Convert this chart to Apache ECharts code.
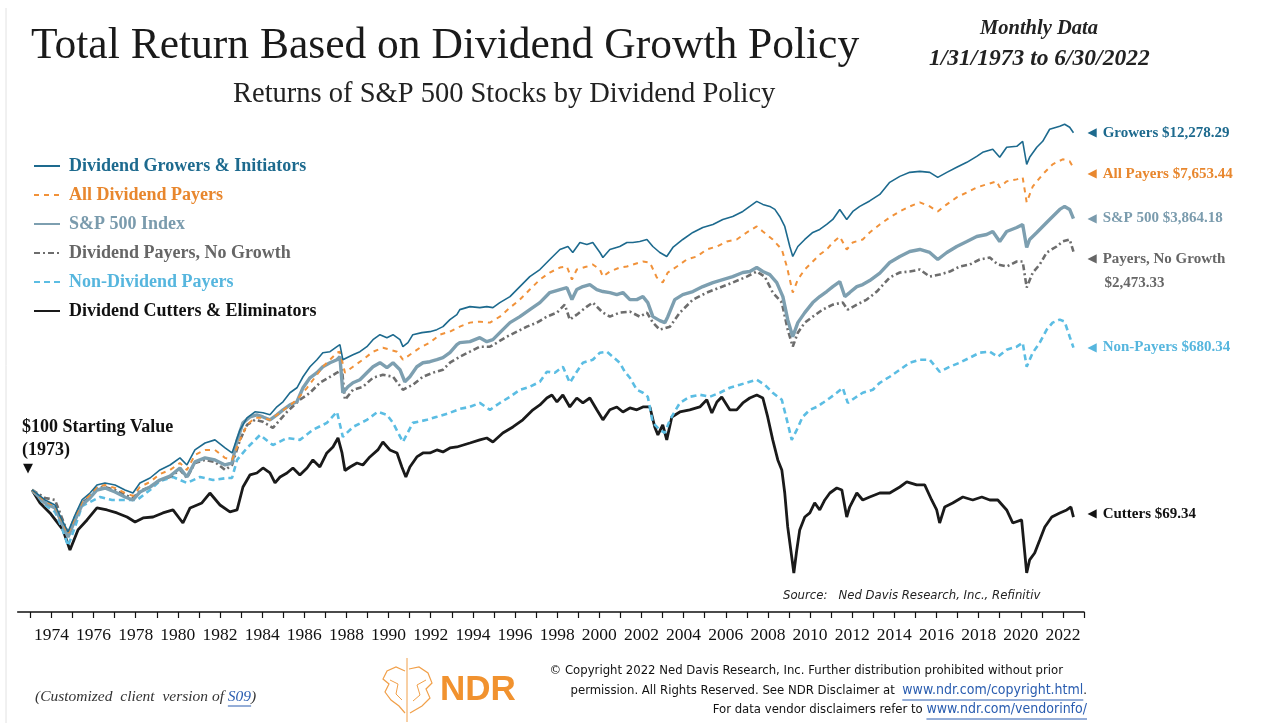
<!DOCTYPE html>
<html>
<head>
<meta charset="utf-8">
<script src="https://cdn.jsdelivr.net/npm/echarts@6/dist/echarts.min.js"></script>
<style>
html,body{margin:0;padding:0;background:#fff;}
#chart{width:1273px;height:723px;}
</style>
</head>
<body>
<div id="chart"></div>
<script>
// ---------------- DATA (decimal years, dollar values) ----------------
const tickYears = [];
for (let y = 1973; y <= 2023; y++) tickYears.push(y);
const labelYears = [];
for (let y = 1974; y <= 2022; y += 2) labelYears.push(y);

const seriesNames = ['Dividend Growers & Initiators','All Dividend Payers','S&P 500 Index','Dividend Payers, No Growth','Non-Dividend Payers','Dividend Cutters & Eliminators'];
const endLabels = ['Growers $12,278.29','All Payers $7,653.44','S&P 500 $3,864.18','Payers, No Growth\n$2,473.33','Non-Payers $680.34','Cutters $69.34'];

const growersDates = [1973.08,1973.70,1974.17,1974.50,1974.79,1975.12,1975.45,1975.83,1976.16,1976.54,1977.02,1977.49,1977.87,1978.20,1978.68,1979.15,1979.63,1980.10,1980.43,1980.81,1981.29,1981.76,1982.24,1982.57,1982.95,1983.28,1983.66,1984.04,1984.37,1984.70,1984.99,1985.32,1985.65,1985.94,1986.27,1986.60,1986.88,1987.22,1987.55,1987.69,1987.83,1988.02,1988.31,1988.64,1988.97,1989.26,1989.59,1989.92,1990.21,1990.54,1990.68,1990.92,1991.15,1991.58,1991.96,1992.29,1992.58,1992.91,1993.24,1993.38,1993.86,1994.33,1994.66,1994.95,1995.28,1995.76,1996.23,1996.70,1997.18,1997.65,1998.13,1998.51,1998.74,1999.08,1999.41,1999.69,2000.03,2000.17,2000.50,2000.97,2001.31,2001.59,2001.92,2002.26,2002.54,2002.87,2003.20,2003.49,2003.96,2004.44,2004.91,2005.39,2005.86,2006.33,2006.81,2007.14,2007.47,2007.76,2008.09,2008.33,2008.56,2008.80,2009.04,2009.18,2009.42,2009.75,2010.13,2010.46,2010.79,2011.08,2011.41,2011.74,2012.03,2012.36,2012.83,2013.31,2013.78,2014.26,2014.73,2015.21,2015.68,2016.06,2016.49,2016.96,2017.44,2017.91,2018.19,2018.67,2019.00,2019.33,2019.81,2020.09,2020.28,2020.42,2020.76,2021.04,2021.37,2021.85,2022.08,2022.32,2022.50];
const growersValues = [100,87.4,81.7,66.8,56.9,71.4,87.4,96.0,107.0,109.9,107.0,100,96.0,109.9,117.5,131.0,140.0,154.0,140.0,171.5,188.3,196.3,176.1,164.6,224.7,264.1,286.5,282.7,275.1,306.4,327.9,370.2,396.0,459.3,525.7,577.8,635.1,643.7,688.6,707.4,577.8,593.6,618.1,643.7,688.6,756.8,809.5,777.5,809.5,756.8,688.6,726.9,809.5,831.8,843.1,866.1,901.8,991.2,1060,1134,1181,1165,1181,1165,1247,1352,1547,1770,1946,2227,2549,2654,2448,2802,2727,2802,2448,2288,2549,2654,2802,2802,2840,2917,2654,2448,2319,2619,2917,3206,3429,3571,3820,3977,4256,4552,4871,4678,4552,4372,3977,3476,2654,2319,2654,2917,3206,3338,3571,3820,4372,3820,4256,4552,4900,5353,6294,6823,7203,7301,7203,6732,7203,7705,8243,8937,9434,9823,8817,10091,10228,10943,8023,8817,10091,10943,12866,13396,13763,13217,12278.29];

const allPayersDates = [1973.08,1973.70,1974.17,1974.50,1974.79,1975.12,1975.45,1975.83,1976.16,1976.54,1977.02,1977.49,1977.87,1978.20,1978.68,1979.15,1979.63,1980.10,1980.43,1980.81,1981.29,1981.76,1982.24,1982.57,1982.95,1983.28,1983.66,1984.04,1984.37,1984.85,1985.65,1986.13,1986.60,1986.88,1987.22,1987.55,1987.69,1987.93,1988.31,1988.78,1989.26,1989.73,1990.06,1990.40,1990.68,1991.01,1991.49,1991.96,1992.43,1992.91,1993.38,1993.86,1994.33,1994.81,1995.28,1995.76,1996.23,1996.70,1997.18,1997.65,1998.13,1998.46,1998.70,1998.93,1999.41,1999.69,2000.03,2000.17,2000.50,2000.97,2001.31,2001.59,2002.07,2002.40,2002.73,2003.01,2003.25,2003.68,2004.15,2004.63,2005.10,2005.58,2006.05,2006.52,2007.00,2007.47,2007.76,2008.23,2008.66,2008.90,2009.18,2009.42,2009.75,2010.13,2010.46,2010.79,2011.08,2011.41,2011.74,2012.03,2012.50,2012.83,2013.31,2013.78,2014.26,2014.73,2015.21,2015.68,2016.06,2016.49,2016.96,2017.44,2017.91,2018.38,2018.86,2019.00,2019.33,2019.81,2020.09,2020.28,2020.57,2021.04,2021.51,2021.99,2022.32,2022.50];
const allPayersValues = [100,86.2,80.6,65.9,55.3,69.5,85.1,93.5,104.1,107.0,102.7,96.0,92.3,104.1,111.4,124.0,131.0,143.8,131.0,160.2,171.5,171.5,154.0,150.0,196.3,240.0,264.1,264.1,257.1,282.7,336.8,396.0,471.8,525.7,577.8,635.1,643.7,484.9,525.7,577.8,643.7,679.4,661.3,643.7,577.8,618.1,679.4,726.9,809.5,843.1,901.8,952.0,964.9,952.0,1032,1165,1298,1486,1700,1869,1999,2026,1700,1946,2026,2082,1946,1770,1894,1999,2026,2082,2168,2139,1746,1633,1869,2026,2227,2319,2549,2654,2840,2917,3206,3476,3249,2917,2549,2026,1427,1700,1946,2168,2382,2549,2802,3037,2549,2802,2917,3206,3571,3924,4256,4552,4806,4552,4256,4678,5141,5499,5882,6125,6379,5882,6379,6553,6732,4806,5962,7011,8023,8583,8355,7653.44];

const sp500Dates = [1973.08,1973.70,1974.17,1974.50,1974.79,1975.12,1975.45,1975.83,1976.16,1976.54,1977.02,1977.49,1977.87,1978.20,1978.68,1979.15,1979.63,1980.10,1980.43,1980.81,1981.29,1981.76,1982.24,1982.57,1982.81,1983.09,1983.42,1983.75,1984.04,1984.37,1984.70,1984.99,1985.32,1985.65,1985.94,1986.27,1986.60,1986.88,1987.22,1987.55,1987.69,1987.83,1988.07,1988.31,1988.64,1988.97,1989.26,1989.59,1989.92,1990.21,1990.54,1990.77,1991.01,1991.34,1991.63,1991.96,1992.29,1992.58,1992.91,1993.24,1993.38,1993.86,1994.33,1994.66,1994.95,1995.28,1995.76,1996.23,1996.70,1997.18,1997.65,1998.13,1998.46,1998.70,1998.93,1999.22,1999.55,1999.88,2000.17,2000.50,2000.83,2001.12,2001.45,2001.78,2002.07,2002.30,2002.54,2002.87,2003.11,2003.25,2003.58,2003.96,2004.44,2004.91,2005.39,2005.86,2006.33,2006.81,2007.14,2007.47,2007.76,2008.09,2008.42,2008.71,2008.94,2009.18,2009.42,2009.75,2010.13,2010.46,2010.79,2011.08,2011.41,2011.65,2011.88,2012.22,2012.50,2012.83,2013.31,2013.78,2014.26,2014.73,2015.21,2015.68,2016.06,2016.49,2016.96,2017.44,2017.91,2018.38,2018.67,2019.00,2019.33,2019.81,2020.09,2020.28,2020.42,2020.76,2021.04,2021.37,2021.85,2022.08,2022.32,2022.50];
const sp500Values = [100,84.0,78.5,64.1,53.1,66.8,81.7,89.8,100,102.7,97.3,91.0,87.4,97.3,104.1,114.4,120.7,134.5,119.1,145.9,154.0,149.9,140.0,143.8,195.0,246.9,267.3,275.1,267.3,257.1,275.1,294.3,314.8,327.9,396.0,453.1,484.9,525.7,554.9,577.8,601.6,370.2,401.4,423.6,441.1,484.9,525.7,554.9,518.7,554.9,504.9,429.4,459.3,525.7,554.9,562.4,577.8,593.6,635.1,707.4,726.9,736.7,777.5,736.7,756.8,831.8,952.0,1032,1134,1247,1427,1486,1527,1298,1486,1547,1590,1486,1447,1427,1389,1427,1298,1298,1352,1247,1032,978,952,1032,1298,1389,1447,1547,1633,1700,1770,1869,1894,1999,1894,1818,1633,1352,991,788,952,1089,1247,1352,1447,1547,1655,1352,1427,1547,1590,1677,1855,2139,2319,2481,2549,2448,2227,2448,2654,2840,3037,3120,3249,2840,3249,3429,3571,2619,2917,3206,3476,3820,4372,4552,4372,3864.18];

const noGrowthDates = [1973.08,1973.70,1974.17,1974.50,1974.79,1975.12,1975.45,1975.83,1976.16,1976.54,1977.02,1977.49,1977.87,1978.20,1978.68,1979.15,1979.63,1980.10,1980.43,1980.81,1981.29,1981.76,1982.24,1982.57,1982.95,1983.28,1983.66,1984.04,1984.51,1985.18,1985.79,1986.27,1986.74,1987.22,1987.55,1987.79,1987.93,1988.31,1988.78,1989.26,1989.73,1990.21,1990.68,1991.15,1991.63,1992.10,1992.58,1992.91,1993.38,1993.86,1994.33,1994.81,1995.14,1995.61,1996.09,1996.56,1997.04,1997.51,1997.99,1998.36,1998.60,1998.93,1999.41,1999.69,2000.17,2000.50,2000.97,2001.45,2001.92,2002.26,2002.54,2002.87,2003.35,2003.82,2004.44,2005.10,2005.72,2006.33,2007.00,2007.47,2007.85,2008.23,2008.66,2008.94,2009.18,2009.42,2009.75,2010.13,2010.60,2011.08,2011.55,2011.79,2012.22,2012.69,2013.17,2013.78,2014.26,2014.73,2015.21,2015.68,2016.15,2016.63,2017.10,2017.58,2018.05,2018.53,2018.91,2019.33,2019.81,2020.09,2020.28,2020.57,2020.90,2021.23,2021.70,2021.99,2022.32,2022.50];
const noGrowthValues = [100,89.8,87.4,68.6,55.3,69.5,84.0,91.0,102.7,104.1,100,93.5,89.8,98.6,104.1,114.4,119.1,131.0,117.5,143.8,149.9,145.9,131.0,140.0,196.3,240.0,257.1,250.3,230.8,286.5,336.8,370.2,423.6,459.3,484.9,504.9,336.8,385.5,401.4,453.1,471.8,459.3,385.5,412.4,459.3,484.9,504.9,554.9,601.6,643.7,688.6,688.6,726.9,788,843.1,901.8,952,1032,1089,1213,991.2,1060,1181,1247,1089,1032,1089,1104,1032,1089,952,866.1,901.8,1089,1298,1427,1527,1633,1770,1894,1770,1427,1247,866.1,688.6,831.8,952,1032,1134,1213,1247,1134,1213,1298,1447,1747,1869,1894,1946,1770,1818,1894,2026,2082,2227,2288,2082,2026,2168,2168,1527,1869,2082,2448,2654,2840,2917,2473.33];

const nonPayersDates = [1973.08,1973.70,1974.17,1974.50,1974.79,1975.12,1975.45,1975.83,1976.31,1976.88,1977.40,1978.06,1978.68,1979.15,1979.77,1980.43,1981.05,1981.67,1982.33,1982.57,1982.81,1983.28,1983.90,1984.51,1985.18,1985.79,1986.41,1987.07,1987.55,1987.83,1988.31,1988.97,1989.49,1989.92,1990.21,1990.68,1991.15,1991.82,1992.29,1992.91,1993.38,1993.86,1994.33,1994.81,1995.28,1995.76,1996.23,1996.70,1997.18,1997.51,1997.89,1998.27,1998.60,1998.93,1999.22,1999.69,2000.03,2000.36,2000.64,2000.97,2001.21,2001.45,2001.78,2002.07,2002.30,2002.54,2002.87,2003.11,2003.35,2003.82,2004.29,2004.77,2005.24,2005.72,2006.19,2006.67,2007.14,2007.47,2007.85,2008.23,2008.66,2008.90,2009.13,2009.37,2009.65,2009.99,2010.32,2010.60,2010.94,2011.27,2011.55,2011.79,2012.12,2012.50,2012.98,2013.31,2013.78,2014.26,2014.73,2015.21,2015.68,2016.15,2016.63,2017.10,2017.58,2018.05,2018.53,2018.91,2019.33,2019.81,2020.09,2020.28,2020.57,2020.90,2021.23,2021.51,2021.85,2022.08,2022.32,2022.50];
const nonPayersValues = [100,81.7,74.4,60.0,47.1,60.8,80.6,85.1,91.0,87.4,87.4,87.4,100,112.9,119.1,109.9,119.1,114.4,117.5,117.5,149.9,176.0,209.7,183.0,201.4,196.3,224.7,246.9,286.5,204.4,233.6,257.1,286.5,275.1,246.9,190.8,246.9,257.1,267.7,282.7,297.9,306.4,322.8,294.3,322.8,350.7,385.5,401.4,429.4,491.5,484.9,525.7,423.6,491.5,554.9,577.8,635.1,643.7,601.6,554.9,491.5,453.1,385.5,370.2,350.7,246.9,224.7,215.8,257.1,322.8,350.7,360.4,350.7,370.2,396.0,412.4,429.4,441.1,412.4,370.2,336.8,257.1,196.3,224.7,267.7,294.3,306.4,322.8,345.1,370.2,396.0,322.8,345.1,370.2,385.5,423.6,459.3,504.9,554.9,577.8,577.8,491.5,525.7,554.9,593.6,635.1,643.7,601.6,661.3,688.6,726.9,525.7,635.1,726.9,866.1,952.0,991.2,964.9,788,680.34];

const cuttersDates = [1973.08,1973.46,1973.93,1974.55,1974.88,1975.26,1975.69,1976.16,1976.64,1977.11,1977.59,1977.97,1978.35,1978.82,1979.29,1979.77,1980.24,1980.58,1981.14,1981.52,1982.00,1982.47,1982.81,1983.09,1983.42,1983.75,1984.04,1984.37,1984.61,1984.85,1985.18,1985.46,1985.79,1986.13,1986.41,1986.74,1987.07,1987.36,1987.60,1987.79,1987.93,1988.17,1988.50,1988.78,1989.11,1989.49,1989.73,1990.06,1990.40,1990.63,1990.82,1991.01,1991.34,1991.63,1991.96,1992.29,1992.58,1992.91,1993.24,1993.86,1994.33,1994.66,1994.95,1995.42,1995.90,1996.37,1996.85,1997.18,1997.51,1997.75,1997.99,1998.27,1998.60,1998.93,1999.22,1999.55,1999.88,2000.17,2000.50,2000.83,2001.12,2001.45,2001.78,2002.07,2002.40,2002.63,2002.78,2003.01,2003.20,2003.44,2003.82,2004.29,2004.77,2005.10,2005.34,2005.58,2005.81,2006.19,2006.52,2006.81,2007.14,2007.47,2007.76,2007.99,2008.23,2008.47,2008.66,2008.80,2008.94,2009.13,2009.23,2009.37,2009.51,2009.75,2009.99,2010.22,2010.46,2010.70,2010.94,2011.27,2011.51,2011.74,2011.88,2012.22,2012.50,2012.83,2013.31,2013.78,2014.26,2014.59,2015.06,2015.44,2015.77,2016.01,2016.15,2016.39,2016.77,2017.25,2017.72,2018.15,2018.53,2018.91,2019.33,2019.62,2020.04,2020.28,2020.42,2020.66,2020.90,2021.14,2021.47,2021.85,2022.18,2022.38,2022.50];
const cuttersValues = [100,84.0,73.4,58.4,44.6,58.4,66.8,78.5,76.4,73.4,69.5,65.0,68.6,69.5,73.4,76.4,64.1,78.5,84.0,96.0,81.7,74.4,76.4,104.1,122.4,125.7,134.5,125.7,109.9,119.1,125.7,134.5,122.4,134.5,149.9,136.3,164.6,178.4,201.4,164.6,130.0,136.3,143.8,140.0,156.0,171.5,190.8,171.5,164.6,136.3,119.1,136.3,156.0,164.6,164.6,171.5,166.9,176.1,178.4,188.3,196.3,201.4,190.8,215.4,233.6,257.1,294.3,314.2,345.1,359.4,327.1,359.4,305.8,345.1,322.8,345.1,294.3,257.1,294.3,305.8,285.8,301.7,294.3,305.8,305.8,233.6,209.7,240.0,196.3,267.3,285.8,294.3,305.8,336.8,282.0,327.1,349.9,294.3,294.3,322.8,345.1,359.4,345.1,267.3,196.3,149.9,131.0,96.0,60.8,40.6,32.7,44.6,58.4,69.5,73.4,84.0,76.4,87.4,96.0,102.7,100,69.5,79.5,96.0,87.4,91.0,96.0,96.0,104.1,111.4,107.0,107.0,87.4,76.4,64.1,79.5,84.0,91.0,87.4,91.0,87.4,87.4,76.4,64.1,66.8,32.7,39.0,42.8,51.0,60.8,69.5,73.4,76.4,79.5,69.34];

// ---------------- STYLE ----------------
const SERIF = "'Liberation Serif','Times New Roman',serif";
const NARROW = "'Liberation Sans Narrow','DejaVu Sans Condensed','Liberation Sans',sans-serif";
const colors = ['#1d6a8e','#f1923a','#7d9fb0','#6d6d6d','#5bbde3','#1a1a1a'];
const textColors = ['#1d6a8e','#e8872e','#7a9bad','#666666','#56b6de','#111111'];
const widths = [1.6,2,3.4,2.6,2.6,2.8];
const dashes = ['solid',[5,5],'solid',[6,3,2,3],[6,4],'solid'];
const labelOffsets = [[0,0],[0,6],[0,0],[0,19],[0,0],[0,-3]];
const zs = [8,7,6,5,4,3];

function pairs(d, v) {
  const n = Math.min(d.length, v.length);
  const out = [];
  for (let i = 0; i < n; i++) out.push([d[i], v[i]]);
  return out;
}
const allData = [
  pairs(growersDates, growersValues),
  pairs(allPayersDates, allPayersValues),
  pairs(sp500Dates, sp500Values),
  pairs(noGrowthDates, noGrowthValues),
  pairs(nonPayersDates, nonPayersValues),
  pairs(cuttersDates, cuttersValues)
];

const series = seriesNames.map((name, i) => ({
  name: name,
  type: 'line',
  data: allData[i],
  showSymbol: false,
  symbol: 'none',
  z: zs[i],
  lineStyle: {color: colors[i], width: widths[i], type: dashes[i]},
  itemStyle: {color: colors[i]},
  endLabel: {
    show: true,
    distance: 14,
    offset: labelOffsets[i],
    formatter: function () {
      const parts = endLabels[i].split('\n');
      let s = '{t|\u25C0}{s|}' + parts[0];
      if (parts[1]) s += '\n{g|}' + parts[1];
      return s;
    },
    color: textColors[i],
    fontFamily: SERIF,
    fontWeight: 'bold',
    fontSize: 15,
    lineHeight: 24,
    rich: {
      t: {fontSize: 12, color: textColors[i], fontFamily: 'DejaVu Sans'},
      s: {width: 6},
      g: {width: 17}
    }
  }
}));

// text measuring helper for placing underlines under link text
const mctx = document.createElement('canvas').getContext('2d');
function tw(text, font) { mctx.font = font; return mctx.measureText(text).width; }

const F13 = "13px " + NARROW;
const FL = "14px " + NARROW;
const line2Plain = 'permission. All Rights Reserved. See NDR Disclaimer at  ';
const line2Link = 'www.ndr.com/copyright.html';
const line3Plain = 'For data vendor disclaimers refer to ';
const line3Link = 'www.ndr.com/vendorinfo/';
const dotW = tw('.', F13);
const l2LinkW = tw(line2Link, FL);
const l2LinkX = 1087 - dotW - l2LinkW;
const l3LinkW = tw(line3Link, FL);
const l3LinkX = 1087 - l3LinkW;

const FC = "italic 15.5px " + SERIF;
const custPlain = '(Customized  client  version of ';
const custW = tw(custPlain, FC);
const s09W = tw('S09', FC);

const chart = echarts.init(document.getElementById('chart'), null, {renderer: 'canvas'});
chart.setOption({
  animation: false,
  backgroundColor: '#ffffff',
  title: [
    {text: 'Total Return Based on Dividend Growth Policy', left: 31, top: 25, padding: 0,
     textStyle: {fontFamily: SERIF, fontSize: 43.5, fontWeight: 'normal', color: '#1a1a1a'}},
    {text: 'Returns of S&P 500 Stocks by Dividend Policy', left: 233, top: 80, padding: 0,
     textStyle: {fontFamily: SERIF, fontSize: 28.5, fontWeight: 'normal', color: '#222'}},
    {text: 'Monthly Data', left: 980, top: 19, padding: 0,
     textStyle: {fontFamily: SERIF, fontSize: 20.5, fontWeight: 'bold', fontStyle: 'italic', color: '#222'}},
    {text: '1/31/1973 to 6/30/2022', left: 929, top: 47, padding: 0,
     textStyle: {fontFamily: SERIF, fontSize: 23.5, fontWeight: 'bold', fontStyle: 'italic', color: '#222'}}
  ],
  legend: {
    orient: 'vertical',
    left: 28,
    top: 152,
    itemWidth: 26,
    itemHeight: 12,
    itemGap: 11,
    selectedMode: false,
    itemStyle: {opacity: 0, borderWidth: 0},
    data: seriesNames.map((n, i) => ({name: n, textStyle: {color: textColors[i]}})),
    textStyle: {fontFamily: SERIF, fontSize: 18, fontWeight: 'bold', lineHeight: 18, padding: [0,0,0,4]}
  },
  grid: {left: 17.7, top: 96.5, width: 1066.3, height: 513, containLabel: false},
  xAxis: {
    type: 'value',
    min: 1972.4,
    max: 2023.0,
    offset: 2.5,
    splitLine: {show: false},
    axisLine: {show: true, onZero: false, lineStyle: {color: '#111', width: 1.5}},
    axisTick: {show: true, customValues: tickYears, length: 6, inside: false, lineStyle: {color: '#111', width: 1.2}},
    axisLabel: {show: true, customValues: labelYears, margin: 14, color: '#111', fontFamily: SERIF, fontSize: 17.5,
                formatter: v => String(Math.round(v))}
  },
  yAxis: {
    type: 'log',
    logBase: 10,
    min: 20,
    max: 20000,
    show: false,
    splitLine: {show: false}
  },
  series: series,
  graphic: [
    {type: 'line', shape: {x1: 6, y1: 8, x2: 6, y2: 723}, style: {stroke: '#e2e2e2', lineWidth: 1}},
    {type: 'text', left: 22, top: 418, style: {text: '$100 Starting Value', font: "bold 18px 'Liberation Serif'", fill: '#111'}},
    {type: 'text', left: 22, top: 441, style: {text: '(1973)', font: "bold 18px 'Liberation Serif'", fill: '#111'}},
    {type: 'text', left: 23, top: 462, style: {text: '\u25BC', font: "13px 'DejaVu Sans'", fill: '#111'}},
    {type: 'text', left: 783, top: 589, style: {text: 'Source:   Ned Davis Research, Inc., Refinitiv', font: "italic 13px " + NARROW, fill: '#222'}},
    {type: 'text', left: 35, top: 689, style: {text: custPlain, font: FC, fill: '#333'}},
    {type: 'text', left: 35 + custW, top: 689, style: {text: 'S09', font: FC, fill: '#2a5db0'}},
    {type: 'text', left: 35 + custW + s09W, top: 689, style: {text: ')', font: FC, fill: '#333'}},
    {type: 'line', shape: {x1: 35 + custW, y1: 706, x2: 35 + custW + s09W, y2: 706}, style: {stroke: '#2a5db0', lineWidth: 1}},
    // NDR logo (approximate outline)
    {type: 'line', shape: {x1: 407, y1: 658, x2: 407, y2: 722}, style: {stroke: '#f1a04a', lineWidth: 1}},
    {type: 'polyline', shape: {points: [[405,671],[396,667],[387,671],[383,679],[389,684],[385,692],[391,700],[399,706],[405,713]]}, style: {stroke: '#f1a04a', fill: null, lineWidth: 1.2}},
    {type: 'polyline', shape: {points: [[409,669],[419,667],[428,673],[432,683],[426,689],[430,698],[422,706],[410,713]]}, style: {stroke: '#f1a04a', fill: null, lineWidth: 1.2}},
    {type: 'polyline', shape: {points: [[390,680],[398,684],[396,694],[402,700]]}, style: {stroke: '#f1a04a', fill: null, lineWidth: 1}},
    {type: 'polyline', shape: {points: [[426,680],[417,685],[420,695],[413,701]]}, style: {stroke: '#f1a04a', fill: null, lineWidth: 1}},
    {type: 'text', left: 440, top: 673, style: {text: 'NDR', font: "bold 35px 'Liberation Sans'", fill: '#f1922f'}},
    {type: 'text', right: 210, top: 664, style: {text: '\u00A9 Copyright 2022 Ned Davis Research, Inc. Further distribution prohibited without prior', font: F13, fill: '#111'}},
    {type: 'text', right: 1273 - l2LinkX, top: 684, style: {text: line2Plain, font: F13, fill: '#111'}},
    {type: 'text', left: l2LinkX, top: 683, style: {text: line2Link, font: FL, fill: '#2a5db0'}},
    {type: 'text', left: 1087 - dotW, top: 684, style: {text: '.', font: F13, fill: '#111'}},
    {type: 'line', shape: {x1: l2LinkX, y1: 700, x2: l2LinkX + l2LinkW, y2: 700}, style: {stroke: '#2a5db0', lineWidth: 1}},
    {type: 'text', right: 1273 - l3LinkX, top: 703, style: {text: line3Plain, font: F13, fill: '#111'}},
    {type: 'text', left: l3LinkX, top: 702, style: {text: line3Link, font: FL, fill: '#2a5db0'}},
    {type: 'line', shape: {x1: l3LinkX, y1: 719, x2: l3LinkX + l3LinkW, y2: 719}, style: {stroke: '#2a5db0', lineWidth: 1}}
  ]
});
</script>
</body>
</html>
